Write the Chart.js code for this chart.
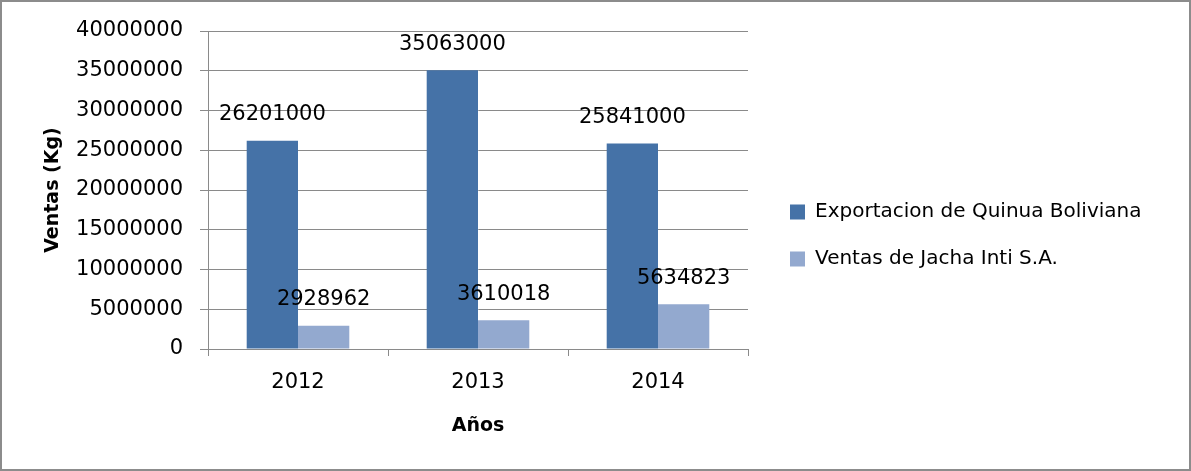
<!DOCTYPE html>
<html>
<head>
<meta charset="utf-8">
<script src="https://cdn.jsdelivr.net/npm/chart.js@4/dist/chart.umd.min.js"></script>
<style>
  html, body { margin: 0; padding: 0; background: #ffffff; }
  #wrap { position: relative; width: 1191px; height: 471px; }
</style>
</head>
<body>
<div id="wrap"><canvas id="c" width="1191" height="471"></canvas></div>
<script>
// Quinoa volumes per year (kg)
const years = ['2012', '2013', '2014'];
const exportQuinua = [26201000, 35063000, 25841000];
const ventasJacha = [2928962, 3610018, 5634823];
const seriesNames = ['Exportacion de Quinua Boliviana', 'Ventas de Jacha Inti S.A.'];
const yTickValues = [0, 5000000, 10000000, 15000000, 20000000, 25000000, 30000000, 35000000, 40000000];

const FONT = 'DejaVu Sans';
const GRID = '#8a8a8a';

// White page with a thin frame around the whole figure
const framePlugin = {
  id: 'frame',
  beforeDraw(chart) {
    const ctx = chart.ctx;
    ctx.save();
    ctx.fillStyle = '#ffffff';
    ctx.fillRect(0, 0, chart.width, chart.height);
    ctx.strokeStyle = '#8c8c8c';
    ctx.lineWidth = 2;
    ctx.strokeRect(1, 1, chart.width - 2, chart.height - 2);
    ctx.restore();
  }
};

// Legend sits to the right of the plot, centred on the figure
const legendPlacePlugin = {
  id: 'legendPlace',
  afterLayout(chart) {
    const lg = chart.legend;
    if (!lg) return;
    const w = lg.width;
    lg.left = 763; lg.right = 763 + w;
    lg.top = 0; lg.bottom = chart.height; lg.height = chart.height;
  }
};

// Value written above every bar
const valueLabelPlugin = {
  id: 'valueLabels',
  afterDatasetsDraw(chart) {
    const ctx = chart.ctx;
    ctx.save();
    ctx.font = '21px "' + FONT + '"';
    ctx.fillStyle = '#000000';
    ctx.textAlign = 'center';
    ctx.textBaseline = 'middle';
    chart.data.datasets.forEach((ds, di) => {
      const meta = chart.getDatasetMeta(di);
      meta.data.forEach((bar, i) => {
        ctx.fillText(String(ds.data[i]), bar.x, bar.y - 26);
      });
    });
    ctx.restore();
  }
};

new Chart(document.getElementById('c'), {
  type: 'bar',
  data: {
    labels: years,
    datasets: [
      { label: seriesNames[0], data: exportQuinua, backgroundColor: '#4572A7', borderWidth: 0 },
      { label: seriesNames[1], data: ventasJacha, backgroundColor: '#93A9CF', borderWidth: 0 }
    ]
  },
  options: {
    responsive: false,
    animation: false,
    devicePixelRatio: 1,
    layout: { padding: { left: 0, top: 31, right: 443, bottom: 0 } },
    datasets: { bar: { barPercentage: 1, categoryPercentage: 0.57 } },
    plugins: {
      tooltip: { enabled: false },
      legend: {
        position: 'chartArea',
        align: 'center',
        labels: {
          boxWidth: 15, boxHeight: 15, padding: 27,
          color: '#000000',
          font: { family: FONT, size: 20 }
        }
      }
    },
    scales: {
      x: {
        afterFit(scale) { scale.height = 122; },
        grid: { offset: true, drawOnChartArea: false, drawTicks: true, tickLength: 7, color: GRID, lineWidth: 1 },
        border: { display: true, color: GRID, width: 1 },
        ticks: { color: '#000000', padding: 14, font: { family: FONT, size: 21 } },
        title: { display: true, text: 'Años', color: '#000000', padding: { top: 0, bottom: 34 }, font: { family: FONT, size: 19, weight: 'bold' } }
      },
      y: {
        min: 0, max: 40000000,
        afterFit(scale) { scale.width = 208; },
        afterBuildTicks(scale) { scale.ticks = yTickValues.map(v => ({ value: v })); },
        grid: { color: GRID, lineWidth: 1, tickLength: 8, drawTicks: true },
        border: { display: true, color: GRID, width: 1 },
        ticks: { color: '#000000', padding: 17, font: { family: FONT, size: 21 }, callback: v => String(v) },
        title: { display: true, text: 'Ventas (Kg)', color: '#000000', padding: { top: 42, bottom: 0 }, font: { family: FONT, size: 19, weight: 'bold' } }
      }
    }
  },
  plugins: [framePlugin, legendPlacePlugin, valueLabelPlugin]
});
</script>
</body>
</html>
